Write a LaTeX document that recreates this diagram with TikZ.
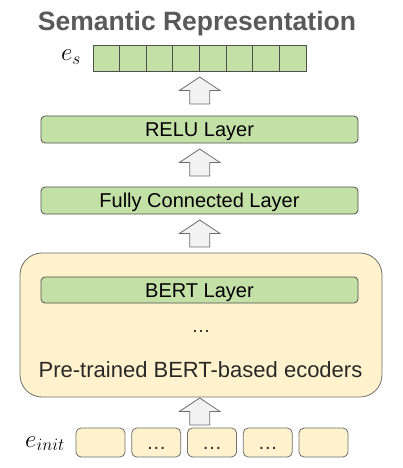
\documentclass[tikz,border=0pt]{standalone}
\usepackage{fontspec}
\setmainfont{Liberation Sans}
\definecolor{greenfill}{RGB}{195,224,166}
\definecolor{yellowfill}{RGB}{255,242,204}
\definecolor{linegray}{RGB}{80,80,80}
\definecolor{arrowfill}{RGB}{242,242,242}
\definecolor{arrowdraw}{RGB}{110,110,110}
\definecolor{titlegray}{RGB}{89,89,89}
\definecolor{textdark}{RGB}{40,40,40}
\begin{document}
\begin{tikzpicture}[x=1pt,y=-1pt,
  layerbox/.style={draw=linegray, fill=greenfill, line width=0.8pt, rounded corners=4pt,
    minimum width=317pt, minimum height=27pt, inner sep=0pt,
    font=\fontsize{20}{24}\selectfont, text height=14.4pt, text depth=0pt},
  cellbox/.style={draw=linegray, fill=greenfill, line width=0.8pt,
    minimum width=26.625pt, minimum height=26pt, inner sep=0pt},
  inbox/.style={draw=arrowdraw, fill=yellowfill, line width=0.8pt, rounded corners=5pt,
    minimum width=49pt, minimum height=29pt, inner sep=0pt},
  dotstext/.style={anchor=base, inner sep=0pt, font=\fontsize{20}{24}\selectfont, text=textdark},
  encbox/.style={draw=arrowdraw, fill=yellowfill, line width=0.8pt, rounded corners=22pt,
    minimum width=362pt, minimum height=144pt, inner sep=0pt},
  uparrow/.pic={\draw[fill=arrowfill, draw=arrowdraw, line width=0.8pt]
    (-10,0) -- (-10,-13.5) -- (-20.3,-13.5) -- (0,-27) -- (20.3,-13.5) -- (10,-13.5) -- (10,0) -- cycle;}
]
\useasboundingbox (0,0) rectangle (403,468);

% title
\node[font=\fontsize{26.5}{30}\selectfont\bfseries, text=titlegray, anchor=base] (title) at (197,31) {Semantic Representation};

% semantic vector
\node[anchor=base, font=\fontsize{25}{28}\selectfont] (es) at (71,61) {$e_s$};
\foreach \i in {0,...,7}
  \node[cellbox] (c\i) at ({93+13.3125+26.625*\i},58) {};

% arrows
\pic at (199.7,104) {uparrow};
\pic at (199.7,176) {uparrow};
\pic at (199.7,247) {uparrow};
\pic at (199.7,425) {uparrow};

% layers
\node[layerbox] (relu) at (199.5,129.5) {RELU Layer};
\node[layerbox] (fc) at (199.5,200.5) {Fully Connected Layer};

% encoder
\node[encbox] (enc) at (201,325) {};
\node[layerbox, minimum height=26pt] (bert) at (199.5,290) {BERT Layer};
\node[dotstext, font=\fontsize{19}{22}\selectfont] (dots) at (201,332) {…};
\node[anchor=base, font=\fontsize{22}{26}\selectfont, text=textdark] (pre) at (200.5,377.7) {Pre-trained BERT-based ecoders};

% input
\node[anchor=base, font=\fontsize{25}{28}\selectfont] (einit) at (45,447) {$e_{init}$};
\node[inbox] (t1) at (100.5,442.5) {};
\node[inbox] (t2) at (156.25,442.5) {};
\node[inbox] (t3) at (212,442.5) {};
\node[inbox] (t4) at (267.75,442.5) {};
\node[inbox] (t5) at (323.5,442.5) {};
\node[dotstext] (d2) at (t2.center |- 0,449.5) {…};
\node[dotstext] (d3) at (t3.center |- 0,449.5) {…};
\node[dotstext] (d4) at (t4.center |- 0,449.5) {…};
\end{tikzpicture}
\end{document}
